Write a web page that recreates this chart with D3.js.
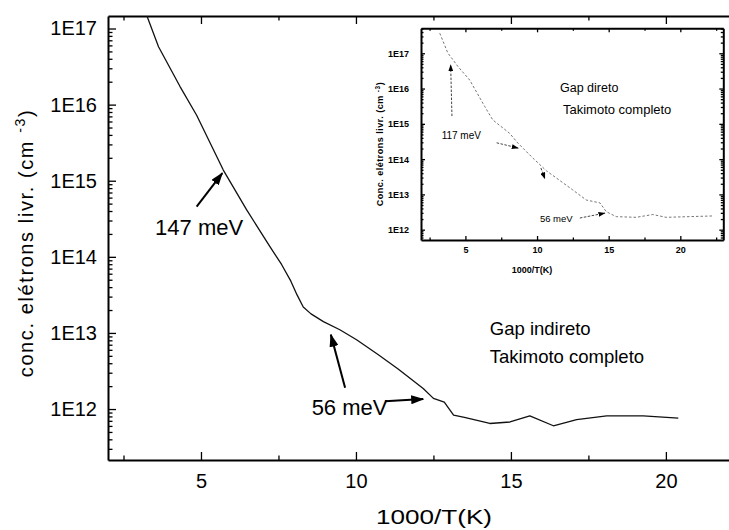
<!DOCTYPE html>
<html>
<head>
<meta charset="utf-8">
<script src="https://cdn.jsdelivr.net/npm/d3@7"></script>
<style>
  body { margin: 0; background: #fff; }
  svg { display: block; font-family: Arial, "Liberation Sans", sans-serif; }
</style>
</head>
<body>
<div id="chart"></div>
<script>
// Main curve: indirect gap, Takimoto complete (1000/T vs free electron conc.)
const mainX = [3.26, 3.63, 4.32, 4.86, 5.72, 6.47, 7.23, 7.60, 7.90, 8.10, 8.30, 8.55, 8.95, 9.48,
               10.02, 10.70, 11.35, 12.17, 12.50, 12.85, 13.15, 13.50, 14.32, 14.97, 15.61,
               16.37, 17.12, 18.09, 19.27, 20.40];
const mainN = [1.45e17, 5.75e16, 1.74e16, 7.24e15, 1.38e15, 4.17e14, 1.35e14, 7.94e13, 4.79e13,
               3.16e13, 2.19e13, 1.78e13, 1.41e13, 1.10e13, 8.13e12, 5.25e12, 3.39e12, 1.86e12,
               1.38e12, 1.23e12, 8.32e11, 7.76e11, 6.46e11, 6.76e11, 8.13e11, 6.03e11, 7.24e11,
               8.13e11, 8.13e11, 7.59e11];

// Inset curve: direct gap
const insetX = [3.21, 3.77, 4.49, 5.30, 6.35, 6.91, 8.09, 8.65, 9.71, 10.65, 12.48, 13.44,
                14.39, 14.83, 15.53, 16.92, 18.08, 19.01, 22.26];
const insetN = [3.7e17, 1.02e17, 4.17e16, 1.74e16, 3.09e15, 1.29e15, 5.37e14, 2.88e14, 1.07e14,
                4.68e13, 1.35e13, 6.92e12, 5.75e12, 3.24e12, 2.34e12, 2.24e12, 2.69e12, 2.24e12, 2.45e12];

const xMajor = [5, 10, 15, 20];
const xMinor = [2.5, 7.5, 12.5, 17.5];
const insetXMinor = [2.5, 7.5, 12.5, 17.5, 22.5];
const decades = [1e12, 1e13, 1e14, 1e15, 1e16, 1e17];

// annotations, in data units
const mainLabels = [
    { text: '147 meV', x: 3.52, n: 1.95e14, size: 22 },
    { text: '56 meV', x: 8.57, n: 8.3e11, size: 22 },
    { text: 'Gap indireto', x: 14.32, n: 9.3e12, size: 18.5 },
    { text: 'Takimoto completo', x: 14.32, n: 3.98e12, size: 18.5 }
];
const mainArrows = [
    { from: [4.86, 4.57e14], to: [5.69, 1.26e15] },
    { from: [9.65, 1.9e12], to: [9.19, 9.5e12] },
    { from: [10.94, 1.27e12], to: [12.17, 1.35e12] }
];
const insetLabels = [
    { text: '117 meV', x: 3.34, n: 3.7e14, size: 10 },
    { text: '56 meV', x: 10.2, n: 1.66e12, size: 9.5 },
    { text: 'Gap direto', x: 11.6, n: 7.9e15, size: 12.5 },
    { text: 'Takimoto completo', x: 11.81, n: 1.9e15, size: 13 }
];
const insetArrows = [
    { from: [4.06, 1.66e15], to: [3.97, 4.7e16] },
    { from: [7.18, 2.9e14], to: [8.69, 2.05e14] },
    { from: [10.27, 5.6e13], to: [10.55, 2.75e13] },
    { from: [12.99, 2.14e12], to: [14.74, 2.95e12] }
];

const FONT = 'Arial, "Liberation Sans", sans-serif';

class ConcentrationChart {
    constructor() {
        this.width = 729;
        this.height = 530;

        this.svg = d3.select('#chart')
            .append('svg')
            .attr('width', this.width)
            .attr('height', this.height);

        this.defineMarkers();
        this.drawMain();
        this.drawInset();
    }

    defineMarkers() {
        const defs = this.svg.append('defs');
        defs.append('marker')
            .attr('id', 'head-main')
            .attr('markerUnits', 'userSpaceOnUse')
            .attr('markerWidth', 13).attr('markerHeight', 9)
            .attr('refX', 12).attr('refY', 4.5)
            .attr('orient', 'auto')
            .append('path').attr('d', 'M0,0 L13,4.5 L0,9 Z').attr('fill', '#000');
        defs.append('marker')
            .attr('id', 'head-inset')
            .attr('markerUnits', 'userSpaceOnUse')
            .attr('markerWidth', 7).attr('markerHeight', 5)
            .attr('refX', 6.5).attr('refY', 2.5)
            .attr('orient', 'auto')
            .append('path').attr('d', 'M0,0 L7,2.5 L0,5 Z').attr('fill', '#000');
        defs.append('clipPath').attr('id', 'clip-main')
            .append('rect').attr('x', 108).attr('y', 16).attr('width', 640).attr('height', 444);
    }

    styleAxis(g, width, fontSize, weight) {
        g.select('.domain').attr('stroke', '#000').attr('stroke-width', width);
        g.selectAll('.tick line').attr('stroke', '#000').attr('stroke-width', 1.3);
        g.selectAll('.tick text')
            .attr('fill', '#000')
            .attr('font-family', FONT)
            .attr('font-size', fontSize)
            .attr('font-weight', weight || 'normal');
    }

    minorLogTicks(scale) {
        const [lo, hi] = scale.domain();
        return scale.ticks().filter(d => {
            const e = Math.log10(d);
            return d >= lo && d <= hi && Math.abs(e - Math.round(e)) > 1e-6;
        });
    }

    drawMain() {
        const x = d3.scaleLinear().domain([2, 22.23]).range([108, 735]);
        const y = d3.scaleLog().domain([2.14e11, 1.46e17]).range([460, 16]);
        const svg = this.svg;

        // bottom axis
        const bottom = svg.append('g').attr('transform', 'translate(0,460)')
            .call(d3.axisBottom(x).tickValues(xMajor).tickSize(-8).tickSizeOuter(0)
                .tickPadding(14).tickFormat(d3.format('d')));
        this.styleAxis(bottom, 2, 20);
        const bottomMinor = svg.append('g').attr('transform', 'translate(0,460)')
            .call(d3.axisBottom(x).tickValues(xMinor).tickSize(-4.5).tickSizeOuter(0).tickFormat(''));
        bottomMinor.select('.domain').remove();
        this.styleAxis(bottomMinor, 0);

        // top frame
        const top = svg.append('g').attr('transform', 'translate(0,16)')
            .call(d3.axisTop(x).tickValues(xMajor).tickSize(-8).tickSizeOuter(0).tickFormat(''));
        this.styleAxis(top, 2, 0);
        const topMinor = svg.append('g').attr('transform', 'translate(0,16)')
            .call(d3.axisTop(x).tickValues(xMinor).tickSize(-4.5).tickSizeOuter(0).tickFormat(''));
        topMinor.select('.domain').remove();
        this.styleAxis(topMinor, 0);

        // left axis
        const left = svg.append('g').attr('transform', 'translate(108,0)')
            .call(d3.axisLeft(y).tickValues(decades).tickSize(-8).tickSizeOuter(0)
                .tickPadding(11).tickFormat(d => '1E' + Math.round(Math.log10(d))));
        this.styleAxis(left, 2, 20);
        const leftMinor = svg.append('g').attr('transform', 'translate(108,0)')
            .call(d3.axisLeft(y).tickValues(this.minorLogTicks(y)).tickSize(-4.5).tickSizeOuter(0).tickFormat(''));
        leftMinor.select('.domain').remove();
        this.styleAxis(leftMinor, 0);

        // axis titles
        svg.append('text')
            .attr('x', 376).attr('y', 524)
            .attr('font-family', FONT).attr('font-size', 20)
            .attr('textLength', 116)
            .attr('lengthAdjust', 'spacingAndGlyphs')
            .text('1000/T(K)');

        const yt = svg.append('text')
            .attr('transform', 'translate(33,243) rotate(-90)')
            .attr('text-anchor', 'middle')
            .attr('font-family', FONT).attr('font-size', 20)
            .attr('letter-spacing', 1.6);
        yt.append('tspan').text('conc. elétrons livr. (cm ');
        yt.append('tspan').attr('dy', -8).attr('font-size', 14).text('-3');
        yt.append('tspan').attr('dy', 8).text(')');

        // curve
        const line = d3.line().x(d => x(d[0])).y(d => y(d[1]));
        svg.append('path')
            .datum(mainX.map((v, i) => [v, mainN[i]]))
            .attr('clip-path', 'url(#clip-main)')
            .attr('fill', 'none')
            .attr('stroke', '#111')
            .attr('stroke-width', 1.3)
            .attr('stroke-linejoin', 'round')
            .attr('d', line);

        // annotations
        svg.append('g').selectAll('line')
            .data(mainArrows)
            .enter().append('line')
            .attr('x1', d => x(d.from[0])).attr('y1', d => y(d.from[1]))
            .attr('x2', d => x(d.to[0])).attr('y2', d => y(d.to[1]))
            .attr('stroke', '#000').attr('stroke-width', 2)
            .attr('marker-end', 'url(#head-main)');

        svg.append('g').selectAll('text')
            .data(mainLabels)
            .enter().append('text')
            .attr('x', d => x(d.x)).attr('y', d => y(d.n))
            .attr('font-family', FONT)
            .attr('font-size', d => d.size)
            .attr('fill', '#000')
            .text(d => d.text);
    }

    drawInset() {
        const xi = d3.scaleLinear().domain([1.9, 23]).range([421, 723.3]);
        const yi = d3.scaleLog().domain([5.1e11, 5.1e17]).range([240, 28.3]);
        const g = this.svg.append('g');

        g.append('rect')
            .attr('x', 421).attr('y', 28.3)
            .attr('width', 302.3).attr('height', 211.7)
            .attr('fill', '#fff');

        const axes = [
            { gen: d3.axisBottom(xi), at: 'translate(0,240)', major: xMajor, minor: insetXMinor, label: true, pad: 7 },
            { gen: d3.axisTop(xi), at: 'translate(0,28.3)', major: xMajor, minor: insetXMinor, label: false },
            { gen: d3.axisLeft(yi), at: 'translate(421,0)', major: decades, minor: this.minorLogTicks(yi), label: true, pad: 12 },
            { gen: d3.axisRight(yi), at: 'translate(723.3,0)', major: decades, minor: this.minorLogTicks(yi), label: false }
        ];
        axes.forEach(a => {
            const isY = a.major === decades;
            const fmt = a.label ? (isY ? (d => '1E' + Math.round(Math.log10(d))) : d3.format('d')) : '';
            const ga = g.append('g').attr('transform', a.at)
                .call(a.gen.tickValues(a.major).tickSize(-4).tickSizeOuter(0)
                    .tickPadding(a.pad || 3).tickFormat(fmt));
            this.styleAxis(ga, 2, 9, 'bold');
            const gm = g.append('g').attr('transform', a.at)
                .call(a.gen.tickValues(a.minor).tickSize(-2.5).tickSizeOuter(0).tickFormat(''));
            gm.select('.domain').remove();
            this.styleAxis(gm, 0);
        });

        g.append('text')
            .attr('x', 532).attr('y', 273)
            .attr('text-anchor', 'middle')
            .attr('font-family', FONT).attr('font-size', 9).attr('font-weight', 'bold')
            .text('1000/T(K)');

        const yt = g.append('text')
            .attr('transform', 'translate(383,144) rotate(-90)')
            .attr('text-anchor', 'middle')
            .attr('font-family', FONT).attr('font-size', 9).attr('font-weight', 'bold')
            .attr('letter-spacing', 0.5);
        yt.append('tspan').text('Conc. elétrons livr. (cm ');
        yt.append('tspan').attr('dy', -3).attr('font-size', 6.5).text('-3');
        yt.append('tspan').attr('dy', 3).text(')');

        const line = d3.line().x(d => xi(d[0])).y(d => yi(d[1]));
        g.append('path')
            .datum(insetX.map((v, i) => [v, insetN[i]]))
            .attr('fill', 'none')
            .attr('stroke', '#777')
            .attr('stroke-width', 1)
            .attr('stroke-dasharray', '2.5,2')
            .attr('d', line);

        g.append('g').selectAll('line')
            .data(insetArrows)
            .enter().append('line')
            .attr('x1', d => xi(d.from[0])).attr('y1', d => yi(d.from[1]))
            .attr('x2', d => xi(d.to[0])).attr('y2', d => yi(d.to[1]))
            .attr('stroke', '#444').attr('stroke-width', 1)
            .attr('stroke-dasharray', '2.5,1.5')
            .attr('marker-end', 'url(#head-inset)');

        g.append('g').selectAll('text')
            .data(insetLabels)
            .enter().append('text')
            .attr('x', d => xi(d.x)).attr('y', d => yi(d.n))
            .attr('font-family', FONT)
            .attr('font-size', d => d.size)
            .attr('fill', '#000')
            .text(d => d.text);
    }
}

document.addEventListener('DOMContentLoaded', () => {
    new ConcentrationChart();
});
</script>
</body>
</html>
